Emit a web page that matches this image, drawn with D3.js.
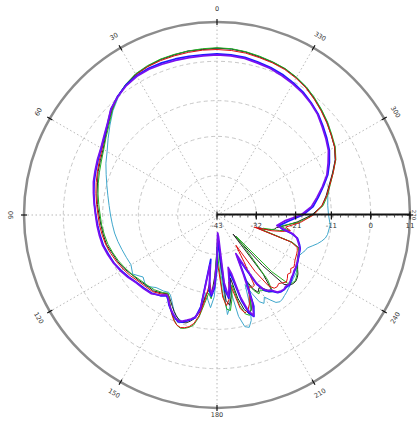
<!DOCTYPE html>
<html><head><meta charset="utf-8">
<script src="https://cdn.jsdelivr.net/npm/d3@7"></script>
<style>body{margin:0;background:#fff}svg{display:block}</style>
</head><body><svg id="c" width="417" height="421"></svg>
<script>
// Angles in degrees, counter-clockwise from top (0 = up, 90 = left)
const angles = [0,5,10,15,20,25,30,35,40,45,50,55,60,65,70,75,80,85,90,95,100,105,110,115,120,125,130,135,140,145,
  148,150,152,154,156,158,160,162,164,166,168,170,172,174,176,178,180,182,184,186,188,190,192,194,196,198,200,202,204,206,208,210,212,214,216,218,220,222,224,226,228,230,232,234,236,238,240,242,244,246,248,250,252,254,256,258,
  260,265,270,275,280,285,290,295,300,305,310,315,320,325,330,335,340,345,350,355];

const angleTicks = [0,30,60,90,120,150,180,210,240,270,300,330];
const radialTicks = [-43,-32,-21,-11,0,11];

const blackDb = [3.7,3.5,3.6,3.4,3.3,2.9,2.5,1.5,0.3,-1.5,-3.3,-4.9,-6.2,-7.0,-7.6,-8.4,-8.9,-9.4,-10.0,-10.4,-10.7,-11.0,-11.8,-12.3,-13.0,-13.9,-14.5,-15.1,-15.3,-16.3,
  -17.0,-16.4,-15.5,-14.5,-13.5,-12.6,-11.8,-11.4,-11.6,-12.4,-13.5,-15.5,-20.0,-22.0,-20.5,-26.0,-33.0,-38.0,-30.0,-19.0,-17.5,-20.0,-25.0,-19.0,-15.5,-14.0,-14.8,-18.0,-23.0,-20.0,-18.5,-19.5,-18.8,-17.6,-17.0,-22.0,-36.0,-24.0,-16.0,-14.8,-14.3,-14.2,-14.5,-15.0,-15.8,-16.4,-17.0,-17.3,-17.6,-17.8,-18.2,-20.6,-31.0,-28.0,-26.5,-26.0,
  -24.5,-20.5,-16.5,-13.5,-12.0,-10.5,-8.6,-6.5,-5.0,-4.0,-2.8,-1.7,-0.6,0.5,1.4,2.1,2.5,2.8,3.3,3.6];

const greenDb = [3.8,3.7,3.6,3.5,3.4,3.1,2.6,1.6,0.3,-1.6,-3.6,-5.1,-6.4,-7.3,-8.0,-8.6,-9.2,-9.8,-10.3,-10.6,-11.0,-11.4,-12.0,-12.6,-13.3,-14.0,-14.8,-15.3,-15.7,-16.5,
  -17.2,-16.2,-15.0,-13.6,-12.4,-11.2,-10.2,-9.7,-10.0,-10.6,-11.5,-14.0,-18.0,-21.0,-19.5,-24.0,-34.0,-29.0,-21.0,-16.5,-16.0,-19.0,-23.0,-17.0,-14.2,-13.5,-15.0,-18.5,-22.0,-19.5,-18.0,-18.8,-18.0,-17.0,-16.5,-20.0,-30.0,-35.0,-21.0,-15.5,-14.6,-14.4,-14.8,-15.3,-16.0,-16.6,-17.1,-17.5,-17.8,-18.0,-18.4,-20.5,-30.0,-29.5,-25.0,-22.5,
  -25.0,-20.0,-16.2,-13.2,-11.6,-10.2,-8.4,-6.3,-4.8,-3.8,-2.6,-1.5,-0.4,0.7,1.5,2.2,2.6,3.0,3.4,3.7];

const redDb = [3.3,3.3,3.2,3.1,3.0,2.8,2.3,1.4,0.2,-1.3,-3.2,-4.7,-5.9,-6.7,-7.4,-8.0,-8.6,-9.2,-9.7,-10.0,-10.4,-10.8,-11.4,-12.0,-12.7,-13.4,-14.2,-14.7,-15.0,-16.0,
  -16.8,-16.0,-14.8,-13.4,-12.2,-11.0,-10.2,-9.9,-10.2,-10.8,-12.0,-14.5,-19.0,-24.0,-21.0,-23.0,-30.0,-27.0,-20.0,-17.5,-19.0,-24.0,-21.0,-16.0,-14.5,-15.0,-16.5,-19.0,-21.0,-20.5,-20.7,-28.0,-33.0,-24.0,-18.5,-17.0,-16.8,-17.2,-16.6,-16.0,-16.5,-17.2,-16.8,-17.5,-17.0,-17.4,-17.8,-18.0,-18.2,-18.4,-18.8,-21.0,-32.0,-27.0,-24.0,-22.0,
  -23.5,-19.5,-16.0,-13.6,-11.8,-10.3,-8.4,-6.4,-5.0,-4.0,-2.9,-1.8,-0.7,0.4,1.2,1.9,2.3,2.6,3.0,3.2];

const cyanDb = [3.6,3.5,3.5,3.3,3.2,2.9,2.4,1.4,0.0,-1.8,-3.9,-5.8,-7.5,-8.7,-10.0,-11.1,-12.0,-12.7,-13.2,-13.6,-13.9,-14.3,-14.7,-15.0,-15.2,-14.2,-16.0,-14.8,-16.5,-17.0,
  -17.5,-17.0,-16.0,-14.8,-13.5,-12.5,-12.0,-11.6,-12.0,-13.0,-14.0,-16.0,-21.0,-19.0,-17.0,-20.0,-27.0,-36.0,-26.0,-15.0,-17.0,-22.0,-14.0,-10.8,-10.3,-12.0,-16.0,-22.0,-19.0,-16.0,-15.0,-16.5,-15.0,-13.5,-13.0,-13.2,-13.6,-13.9,-14.3,-14.6,-14.9,-15.2,-15.4,-15.6,-16.0,-16.5,-16.9,-17.2,-17.3,-16.9,-16.4,-16.1,-15.0,-13.8,-12.8,-12.0,
  -11.6,-11.2,-11.8,-11.9,-11.5,-10.4,-8.5,-6.5,-5.0,-3.9,-2.7,-1.6,-0.5,0.6,1.4,2.1,2.5,2.9,3.3,3.6];

const blueDb = [2.1,2.0,2.1,2.2,2.3,2.3,2.0,1.4,0.3,-1.1,-3.1,-4.6,-5.6,-6.3,-6.9,-7.4,-8.0,-8.6,-9.1,-9.5,-9.8,-10.1,-10.7,-11.2,-12.0,-12.8,-13.6,-14.1,-14.5,-15.4,
  -16.4,-15.6,-14.4,-13.5,-12.6,-11.8,-11.2,-11.5,-12.2,-12.8,-13.6,-17.0,-30.5,-22.0,-20.2,-22.5,-29.0,-36.0,-33.0,-22.0,-19.5,-22.0,-27.0,-24.0,-18.0,-14.2,-12.8,-15.5,-23.0,-30.0,-26.0,-20.5,-18.2,-17.2,-16.6,-15.4,-15.0,-14.9,-15.0,-14.8,-15.2,-15.6,-15.9,-16.2,-16.4,-16.6,-16.9,-17.2,-17.5,-17.7,-17.9,-18.4,-19.0,-19.6,-21.5,-24.5,
  -25.5,-23.0,-19.0,-16.0,-14.2,-12.2,-10.0,-8.3,-6.7,-5.5,-4.3,-3.0,-2.0,-1.0,-0.3,0.4,0.9,1.3,1.8,2.0];

const violetDb = [1.8,1.7,1.7,1.8,1.9,2.0,1.8,1.2,0.2,-1.0,-3.0,-4.4,-5.5,-6.1,-6.7,-7.2,-7.9,-8.5,-9.0,-9.3,-9.6,-9.9,-10.5,-11.1,-11.8,-12.6,-13.5,-13.9,-14.3,-15.6,
  -16.6,-15.8,-14.6,-13.6,-12.8,-12.0,-11.5,-11.8,-12.4,-13.0,-13.8,-16.0,-29.0,-23.0,-20.8,-23.5,-31.0,-38.0,-37.0,-24.0,-20.0,-23.0,-28.0,-26.0,-19.0,-15.0,-13.0,-16.5,-25.0,-31.0,-27.0,-21.0,-18.5,-17.5,-17.0,-15.6,-15.2,-15.0,-15.3,-15.0,-15.4,-15.8,-16.0,-16.4,-16.5,-16.8,-17.0,-17.3,-17.6,-17.8,-18.0,-18.6,-19.2,-19.8,-21.0,-24.0,
  -26.0,-24.0,-19.5,-16.5,-14.6,-12.5,-10.3,-8.7,-7.0,-5.8,-4.6,-3.2,-2.2,-1.3,-0.6,0.0,0.6,1.0,1.5,1.7];

const seriesValues = [cyanDb, blackDb, greenDb, redDb, blueDb, violetDb];
const seriesColors = ["#3fa7cc", "#222222", "#22b022", "#e01010", "#1a1aff", "#7a10f0"];
const seriesWidths = [1, 1, 1, 1, 1.7, 1.7];

const W = 417, H = 421, cx = 217, cy = 215, R = 193;
const svg = d3.select("#c");
const g = svg.append("g").attr("transform", `translate(${cx},${cy})`);
const r = d3.scaleLinear().domain([radialTicks[0], radialTicks[radialTicks.length-1]]).range([0, R]).clamp(true);
const toRad = d => -d * Math.PI / 180;

// dashed rings
g.selectAll("circle.ring").data(radialTicks.slice(1, -1)).join("circle")
  .attr("r", d => r(d)).attr("fill", "none").attr("stroke", "#c8c8c8")
  .attr("stroke-width", 1).attr("stroke-dasharray", "4,3");

// spokes
g.selectAll("line.spoke").data(angleTicks).join("line")
  .attr("x1", 0).attr("y1", 0)
  .attr("x2", d => -R * Math.sin(d * Math.PI / 180))
  .attr("y2", d => -R * Math.cos(d * Math.PI / 180))
  .attr("stroke", "#b8b8b8").attr("stroke-width", 1).attr("stroke-dasharray", "1.5,2.5");

// outer circle
g.append("circle").attr("r", R).attr("fill", "none").attr("stroke", "#8c8c8c").attr("stroke-width", 2.5);

// angle ticks and labels
g.selectAll("line.atick").data(angleTicks).join("line")
  .attr("x1", d => -(R - 3) * Math.sin(d * Math.PI / 180))
  .attr("y1", d => -(R - 3) * Math.cos(d * Math.PI / 180))
  .attr("x2", d => -(R + 3) * Math.sin(d * Math.PI / 180))
  .attr("y2", d => -(R + 3) * Math.cos(d * Math.PI / 180))
  .attr("stroke", "#111").attr("stroke-width", 1.2);

const labelRadius = d => d === 180 ? 200 : (d === 270 ? 197 : 206);
g.selectAll("text.alabel").data(angleTicks).join("text")
  .attr("transform", d => {
    const a = d * Math.PI / 180;
    const lr = labelRadius(d);
    const x = -lr * Math.sin(a), y = -lr * Math.cos(a);
    let rot = (d > 90 && d < 270) ? 180 - d : -d;
    if (d === 90) rot = -90;
    if (d === 270) rot = 90;
    return `translate(${x},${y}) rotate(${rot})`;
  })
  .attr("text-anchor", "middle").attr("dominant-baseline", "central")
  .attr("font-family", "DejaVu Sans, sans-serif").attr("font-size", d => d === 270 ? 5.5 : 6.5).attr("fill", "#333")
  .text(d => d);

// radial axis labels (drawn under data)
g.selectAll("text.rlabel").data(radialTicks).join("text")
  .attr("x", d => r(d)).attr("y", 13)
  .attr("text-anchor", "middle")
  .attr("font-family", "DejaVu Sans, sans-serif").attr("font-size", 7).attr("fill", "#333")
  .text(d => d);

// data curves
const line = d3.lineRadial().curve(d3.curveLinearClosed);
seriesValues.forEach((vals, i) => {
  const pts = angles.map((a, j) => [toRad(a), r(vals[j])]);
  g.append("path").attr("d", line(pts)).attr("fill", "none")
    .attr("stroke", seriesColors[i]).attr("stroke-width", seriesWidths[i])
    .attr("stroke-linejoin", "round");
});

// radial axis line with ticks (drawn on top)
const ax = g.append("g").attr("transform", "translate(0,-0.5)");
ax.append("line").attr("x1", 0).attr("x2", R).attr("y1", 0).attr("y2", 0)
  .attr("stroke", "#111").attr("stroke-width", 2.2);
const minor = d3.range(0, 26).map(i => radialTicks[0] + i * (radialTicks[radialTicks.length-1] - radialTicks[0]) / 25);
ax.selectAll("line.mt").data(minor).join("line")
  .attr("x1", d => r(d)).attr("x2", d => r(d)).attr("y1", 0).attr("y2", 3)
  .attr("stroke", "#333").attr("stroke-width", 0.8);
ax.selectAll("line.Mt").data(radialTicks).join("line")
  .attr("x1", d => r(d)).attr("x2", d => r(d)).attr("y1", -3).attr("y2", 5)
  .attr("stroke", "#111").attr("stroke-width", 1.2);
</script>
</body></html>
